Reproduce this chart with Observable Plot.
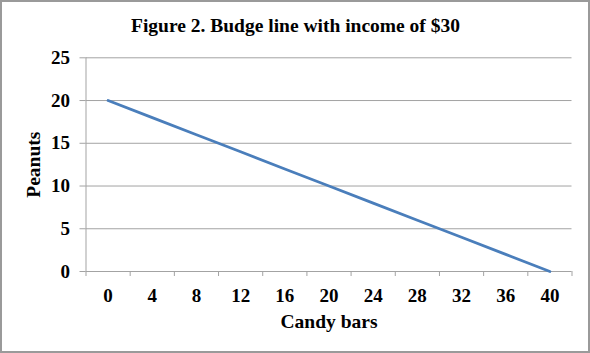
<!DOCTYPE html>
<html><head><meta charset="utf-8">
<script src="https://cdn.jsdelivr.net/npm/d3@7"></script>
<script src="https://cdn.jsdelivr.net/npm/@observablehq/plot@0.6"></script>
<style>
body{margin:0;background:#fff}
#wrap{position:relative;width:590px;height:353px;overflow:hidden;background:#fff}
#border{position:absolute;left:0;top:0;width:590px;height:353px;box-sizing:border-box;border:2px solid #9a9a9a;pointer-events:none}
svg{display:block}
</style></head><body><div id="wrap"><div id="border"></div></div>
<script>
const title = "Figure 2. Budge line with income of $30";
const xLabel = "Candy bars";
const yLabel = "Peanuts";
const candyBars = [0, 4, 8, 12, 16, 20, 24, 28, 32, 36, 40];
const peanuts = [20, 18, 16, 14, 12, 10, 8, 6, 4, 2, 0];
const yTicks = [0, 5, 10, 15, 20, 25];

const data = candyBars.map((c, i) => ({candy: c, peanuts: peanuts[i]}));
const halfStep = (candyBars[1] - candyBars[0]) / 2;
const boundaries = candyBars.map(c => c - halfStep).concat([candyBars[candyBars.length - 1] + halfStep]);
const xDomain = [boundaries[0], boundaries[boundaries.length - 1]];
const grid = "#a3a3a3";

const plot = Plot.plot({
  width: 590, height: 353,
  marginLeft: 85.5, marginRight: 18.5, marginTop: 57.3, marginBottom: 82,
  style: {fontFamily: "'Liberation Serif','Times New Roman',serif", fontSize: "19px", fontWeight: "bold", color: "#000", background: "transparent", overflow: "visible"},
  x: {domain: xDomain, axis: null},
  y: {domain: [0, 25], axis: null},
  marks: [
    Plot.ruleY(yTicks, {x1: xDomain[0], x2: xDomain[1], stroke: grid, strokeWidth: 1}),
    Plot.axisY({ticks: yTicks, tickSize: 6, tickFormat: () => "", stroke: grid, label: null}),
    Plot.axisX({ticks: boundaries, tickSize: 5, tickFormat: () => "", stroke: grid, label: null}),
    Plot.ruleX([xDomain[0]], {y1: 0, y2: 25, stroke: grid, strokeWidth: 1}),
    Plot.line(data, {x: "candy", y: "peanuts", stroke: "#4a7ebb", strokeWidth: 2.75}),
    Plot.text(candyBars, {x: d => d, frameAnchor: "bottom", dy: 24, lineAnchor: "middle", fill: "#000"}),
    Plot.text(yTicks, {y: d => d, frameAnchor: "left", dx: -16, textAnchor: "end", lineAnchor: "middle", fill: "#000"}),
    Plot.text([xLabel], {frameAnchor: "bottom", dy: 50, lineAnchor: "middle", fontSize: 19.5, fill: "#000"}),
    Plot.text([yLabel], {frameAnchor: "left", dx: -52, rotate: -90, textAnchor: "middle", lineAnchor: "middle", fontSize: 19.5, fill: "#000"}),
    Plot.text([title], {frameAnchor: "top", dx: -33.5, dy: -32, lineAnchor: "middle", fontSize: 19.5, fill: "#000"})
  ]
});
document.getElementById("wrap").insertBefore(plot, document.getElementById("border"));
</script></body></html>
